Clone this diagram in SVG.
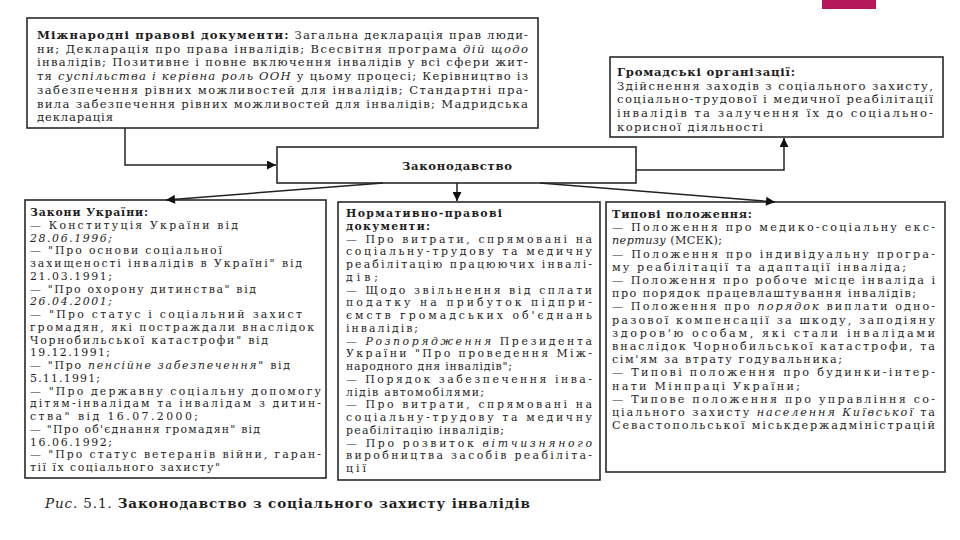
<svg xmlns="http://www.w3.org/2000/svg" width="960" height="540" viewBox="0 0 960 540">
<defs>
<style>
text{font-family:"DejaVu Serif","Liberation Serif",serif;fill:#1e1e1e}
.s{font-size:10.9px}
.r{font-size:11.2px}
.m{font-size:11.6px}
.b{font-weight:bold}
.i{font-style:italic}
.box{fill:#fff;stroke:#2a2a2a;stroke-width:1.6}
.ln{fill:none;stroke:#222;stroke-width:1.5}
</style>
<marker id="ar" viewBox="0 0 10 10" refX="10" refY="5" markerWidth="10" markerHeight="9" markerUnits="userSpaceOnUse" orient="auto">
<path d="M0,0 L10,5 L0,10 z" fill="#111"/>
</marker>
</defs>
<rect width="960" height="540" fill="#fff"/>
<rect x="822" y="0" width="54" height="9" fill="#b5185b"/>

<g id="intl">
<rect class="box" x="27" y="18" width="511" height="110"/>
<text class="m" x="37" y="39" textLength="491" lengthAdjust="spacing"><tspan class="b">Міжнародні правові документи:</tspan> Загальна декларація прав люди-</text>
<text class="m" x="37" y="52.7" textLength="491" lengthAdjust="spacing">ни; Декларація про права інвалідів; Всесвітня програма <tspan class="i">дій щодо</tspan></text>
<text class="m" x="37" y="66.4" textLength="491" lengthAdjust="spacing">інвалідів; Позитивне і повне включення інвалідів у всі сфери жит-</text>
<text class="m" x="37" y="80.1" textLength="491" lengthAdjust="spacing">тя <tspan class="i">суспільства і керівна роль ООН</tspan> у цьому процесі; Керівництво із</text>
<text class="m" x="37" y="93.8" textLength="491" lengthAdjust="spacing">забезпечення рівних можливостей для інвалідів; Стандартні пра-</text>
<text class="m" x="37" y="107.5" textLength="491" lengthAdjust="spacing">вила забезпечення рівних можливостей для інвалідів; Мадридська</text>
<text class="m" x="37" y="121.2" textLength="76" lengthAdjust="spacing">декларація</text>
</g>

<g id="public">
<rect class="box" x="610" y="57" width="333" height="80"/>
<text class="m b" x="617" y="76" textLength="178" lengthAdjust="spacing">Громадські організації:</text>
<text class="m" x="617" y="89.7" textLength="316" lengthAdjust="spacing">Здійснення заходів з соціального захисту,</text>
<text class="m" x="617" y="103.4" textLength="316" lengthAdjust="spacing">соціально-трудової і медичної реабілітації</text>
<text class="m" x="617" y="117.1" textLength="316" lengthAdjust="spacing">інвалідів та залучення їх до соціально-</text>
<text class="m" x="617" y="130.8" textLength="146" lengthAdjust="spacing">корисної діяльності</text>
</g>

<g id="law">
<rect class="box" x="277" y="147" width="359" height="36"/>
<text class="m b" x="457" y="169.5" text-anchor="middle" textLength="110" lengthAdjust="spacing">Законодавство</text>
</g>

<g id="laws-ua">
<rect class="box" x="25" y="200" width="301" height="278"/>
<text class="s b" x="30" y="216" textLength="118" lengthAdjust="spacing">Закони України:</text>
<text class="s" x="30" y="228.75" textLength="208" lengthAdjust="spacing">—  Конституція України від</text>
<text class="s i" x="30" y="241.5" textLength="82" lengthAdjust="spacing">28.06.1996;</text>
<text class="s" x="30" y="254.25" textLength="192" lengthAdjust="spacing">—  "Про основи соціальної</text>
<text class="s" x="30" y="267" textLength="272" lengthAdjust="spacing">захищеності інвалідів в Україні" від</text>
<text class="s" x="30" y="279.75" textLength="82" lengthAdjust="spacing">21.03.1991;</text>
<text class="s" x="30" y="292.5" textLength="226" lengthAdjust="spacing">—  "Про охорону дитинства" від</text>
<text class="s i" x="30" y="305.25" textLength="82" lengthAdjust="spacing">26.04.2001;</text>
<text class="s" x="30" y="318" textLength="272" lengthAdjust="spacing">—  "Про статус і соціальний захист</text>
<text class="s" x="30" y="330.75" textLength="284" lengthAdjust="spacing">громадян, які постраждали внаслідок</text>
<text class="s" x="30" y="343.5" textLength="238" lengthAdjust="spacing">Чорнобильської катастрофи" від</text>
<text class="s" x="30" y="356.25" textLength="80" lengthAdjust="spacing">19.12.1991;</text>
<text class="s" x="30" y="369" textLength="260" lengthAdjust="spacing">—  "Про <tspan class="i">пенсійне забезпечення</tspan>" від</text>
<text class="s" x="30" y="381.75" textLength="70" lengthAdjust="spacing">5.11.1991;</text>
<text class="s" x="30" y="394.5" textLength="291" lengthAdjust="spacing">—  "Про державну соціальну допомогу</text>
<text class="s" x="30" y="407.25" textLength="291" lengthAdjust="spacing">дітям-інвалідам та інвалідам з дитин-</text>
<text class="s" x="30" y="420" textLength="168" lengthAdjust="spacing">ства" від 16.07.2000;</text>
<text class="s" x="30" y="432.75" textLength="230" lengthAdjust="spacing">—  "Про об'єднання громадян" від</text>
<text class="s" x="30" y="445.5" textLength="82" lengthAdjust="spacing">16.06.1992;</text>
<text class="s" x="30" y="458.25" textLength="291" lengthAdjust="spacing">—  "Про статус ветеранів війни, гаран-</text>
<text class="s" x="30" y="471" textLength="190" lengthAdjust="spacing">тії їх соціального захисту"</text>
</g>

<g id="normative">
<rect class="box" x="338" y="202" width="262" height="278"/>
<text class="s b" x="346" y="217" textLength="156" lengthAdjust="spacing">Нормативно-правові</text>
<text class="s b" x="346" y="229.75" textLength="84" lengthAdjust="spacing">документи:</text>
<text class="s" x="346" y="242.5" textLength="246" lengthAdjust="spacing">— Про витрати, спрямовані на</text>
<text class="s" x="346" y="255.25" textLength="246" lengthAdjust="spacing">соціальну-трудову та медичну</text>
<text class="s" x="346" y="268" textLength="246" lengthAdjust="spacing">реабілітацію працюючих інвалі-</text>
<text class="s" x="346" y="280.75" textLength="32" lengthAdjust="spacing">дів;</text>
<text class="s" x="346" y="293.5" textLength="246" lengthAdjust="spacing">— Щодо звільнення від сплати</text>
<text class="s" x="346" y="306.25" textLength="246" lengthAdjust="spacing">податку на прибуток підпри-</text>
<text class="s" x="346" y="319" textLength="246" lengthAdjust="spacing">ємств громадських об'єднань</text>
<text class="s" x="346" y="331.75" textLength="72" lengthAdjust="spacing">інвалідів;</text>
<text class="s" x="346" y="344.5" textLength="246" lengthAdjust="spacing">— <tspan class="i">Розпорядження</tspan> Президента</text>
<text class="s" x="346" y="357.25" textLength="246" lengthAdjust="spacing">України "Про проведення Між-</text>
<text class="s" x="346" y="370" textLength="166" lengthAdjust="spacing">народного дня інвалідів";</text>
<text class="s" x="346" y="382.75" textLength="246" lengthAdjust="spacing">— Порядок забезпечення інва-</text>
<text class="s" x="346" y="395.5" textLength="138" lengthAdjust="spacing">лідів автомобілями;</text>
<text class="s" x="346" y="408.25" textLength="246" lengthAdjust="spacing">— Про витрати, спрямовані на</text>
<text class="s" x="346" y="421" textLength="246" lengthAdjust="spacing">соціальну-трудову та медичну</text>
<text class="s" x="346" y="433.75" textLength="158" lengthAdjust="spacing">реабілітацію інвалідів;</text>
<text class="s" x="346" y="446.5" textLength="246" lengthAdjust="spacing">— Про розвиток <tspan class="i">вітчизняного</tspan></text>
<text class="s" x="346" y="459.25" textLength="246" lengthAdjust="spacing">виробництва засобів реабіліта-</text>
<text class="s" x="346" y="472" textLength="20" lengthAdjust="spacing">ції</text>
</g>

<g id="typical">
<rect class="box" x="606" y="202" width="339" height="270"/>
<text class="r b" x="612" y="218" textLength="140" lengthAdjust="spacing">Типові положення:</text>
<text class="r" x="612" y="231.2" textLength="323" lengthAdjust="spacing">— Положення про медико-соціальну екс-</text>
<text class="r" x="612" y="244.4" textLength="110" lengthAdjust="spacing"><tspan class="i">пертизу</tspan> (МСЕК);</text>
<text class="r" x="612" y="257.6" textLength="323" lengthAdjust="spacing">— Положення про індивідуальну програ-</text>
<text class="r" x="612" y="270.8" textLength="294" lengthAdjust="spacing">му реабілітації та адаптації інваліда;</text>
<text class="r" x="612" y="284" textLength="323" lengthAdjust="spacing">— Положення про робоче місце інваліда і</text>
<text class="r" x="612" y="297.2" textLength="304" lengthAdjust="spacing">про порядок працевлаштування інвалідів;</text>
<text class="r" x="612" y="310.4" textLength="323" lengthAdjust="spacing">— Положення про <tspan class="i">порядок</tspan> виплати одно-</text>
<text class="r" x="612" y="323.6" textLength="323" lengthAdjust="spacing">разової компенсації за шкоду, заподіяну</text>
<text class="r" x="612" y="336.8" textLength="323" lengthAdjust="spacing">здоров'ю особам, які стали інвалідами</text>
<text class="r" x="612" y="350" textLength="323" lengthAdjust="spacing">внаслідок Чорнобильської катастрофи, та</text>
<text class="r" x="612" y="363.2" textLength="230" lengthAdjust="spacing">сім'ям за втрату годувальника;</text>
<text class="r" x="612" y="376.4" textLength="323" lengthAdjust="spacing">— Типові положення про будинки-інтер-</text>
<text class="r" x="612" y="389.6" textLength="188" lengthAdjust="spacing">нати Мінпраці України;</text>
<text class="r" x="612" y="402.8" textLength="323" lengthAdjust="spacing">— Типове положення про управління со-</text>
<text class="r" x="612" y="416" textLength="323" lengthAdjust="spacing">ціального захисту <tspan class="i">населення Київської</tspan> та</text>
<text class="r" x="612" y="429.2" textLength="323" lengthAdjust="spacing">Севастопольської міськдержадміністрацій</text>
</g>

<g id="connectors">
<path class="ln" d="M125,128 V165 H276" marker-end="url(#ar)"/>
<path class="ln" d="M636,170 H784 V138" marker-end="url(#ar)"/>
<path class="ln" d="M457,183 V201" marker-end="url(#ar)"/>
<path class="ln" d="M383,183 L166,200" marker-end="url(#ar)"/>
<path class="ln" d="M540,183 L775,202" marker-end="url(#ar)"/>
</g>

<text x="45" y="508" font-size="13.5" textLength="485" lengthAdjust="spacing"><tspan class="i">Рис.</tspan> 5.1. <tspan class="b">Законодавство з соціального захисту інвалідів</tspan></text>
</svg>
